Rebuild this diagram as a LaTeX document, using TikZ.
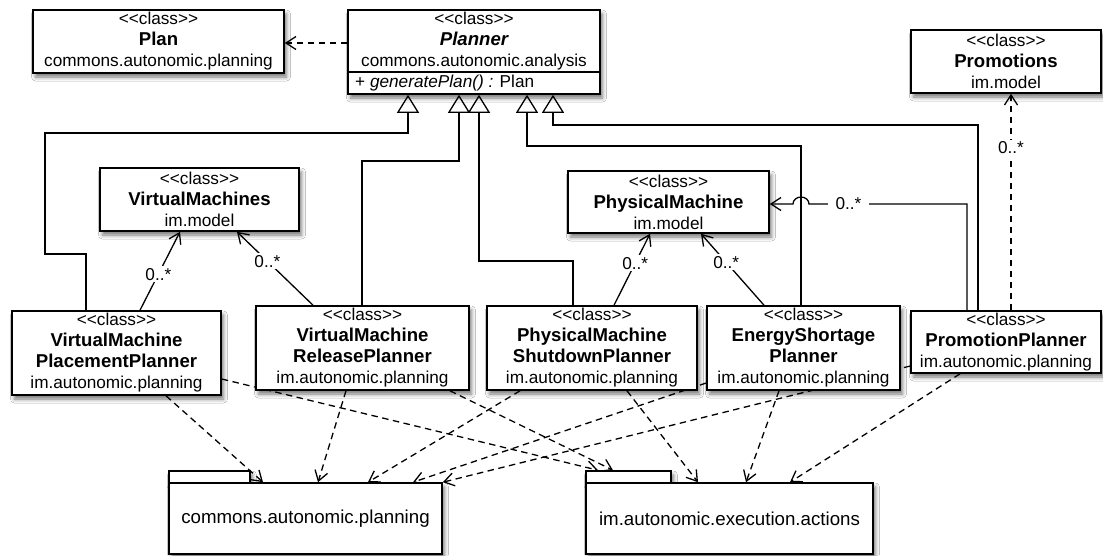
\documentclass[tikz,border=0pt]{standalone}
\usepackage{fontspec}
\setmainfont{Liberation Sans}[Ligatures=TeXOff]
\usetikzlibrary{arrows.meta,shadows.blur}
\newcommand\fr{\fontsize{17.2}{21}\selectfont}
\newcommand\fb{\fontsize{18.6}{21}\selectfont\bfseries}
\newcommand\fpk{\fontsize{18.7}{21}\selectfont}
\newcommand\stc{<\kern0pt<class>\kern0pt>}
\pgfdeclarelayer{bg}
\pgfsetlayers{bg,main}
\tikzset{
  boxline/.style={line width=1.6pt},
  cls/.style={boxline, draw, fill=white, align=center, inner sep=0pt, font=\fr,
    blur shadow={shadow xshift=2.5pt, shadow yshift=-4pt, shadow blur radius=4pt, shadow opacity=55}},
  pkg/.style={cls, font=\fpk},
  conn/.style={line width=1.3pt},
  gen/.style={conn, -{Triangle[open, length=18pt, width=22pt]}},
  assoc/.style={conn, -{Straight Barb[length=10pt, width=13pt]}},
  dep/.style={assoc, dash pattern=on 6.5pt off 4.5pt},
  mult/.style={fill=white, inner sep=2pt, font=\fr},
}
\begin{document}
\begin{tikzpicture}[x=1pt, y=-1pt]
\useasboundingbox (0,0) rectangle (1103,555);
% classes
\node[cls, minimum width=251pt, minimum height=63pt] (plan) at (158.5,41.5)
  {\stc\\{\fb Plan}\\commons.autonomic.planning};
\node[cls, minimum width=252pt, minimum height=84pt] (planner) at (474,52) {};
\node[font=\fr, align=center, inner sep=0pt] (plannerhead) at (474,41.5)
  {\stc\\{\fb\itshape Planner}\\commons.autonomic.analysis};
\draw[boxline] (planner.west |- 0,72) -- (planner.east |- 0,72);
\node[font=\fr, anchor=west, inner sep=0pt] (plannerop) at (355,83)
  {+ \textit{generatePlan() :} Plan};
\node[cls, minimum width=190pt, minimum height=63pt] (promotions) at (1006,61.5)
  {\stc\\{\fb Promotions}\\im.model};
\node[cls, minimum width=199pt, minimum height=63pt] (vms) at (199.5,199.5)
  {\stc\\{\fb VirtualMachines}\\im.model};
\node[cls, minimum width=201pt, minimum height=62pt] (pm) at (668.5,202)
  {\stc\\{\fb PhysicalMachine}\\im.model};
\node[cls, minimum width=209pt, minimum height=84pt] (vmpp) at (116.5,353)
  {\stc\\{\fb VirtualMachine}\\{\fb PlacementPlanner}\\im.autonomic.planning};
\node[cls, minimum width=213pt, minimum height=84pt] (vmrp) at (362.5,348)
  {\stc\\{\fb VirtualMachine}\\{\fb ReleasePlanner}\\im.autonomic.planning};
\node[cls, minimum width=210pt, minimum height=84pt] (pmsp) at (592,348)
  {\stc\\{\fb PhysicalMachine}\\{\fb ShutdownPlanner}\\im.autonomic.planning};
\node[cls, minimum width=193pt, minimum height=84pt] (esp) at (803.5,348)
  {\stc\\{\fb EnergyShortage}\\{\fb Planner}\\im.autonomic.planning};
\node[cls, minimum width=190pt, minimum height=62pt] (ppl) at (1006,342)
  {\stc\\{\fb PromotionPlanner}\\im.autonomic.planning};
% packages
\node[pkg, minimum width=81pt, minimum height=12pt] (commonstab) at (209.5,477) {};
\node[pkg, minimum width=273pt, minimum height=71pt] (commons) at (305.5,518.5)
  {commons.autonomic.planning};
\node[pkg, minimum width=85pt, minimum height=12pt] (exectab) at (628.5,477) {};
\node[pkg, minimum width=287pt, minimum height=71pt] (exec) at (729.5,518.5)
  {im.autonomic.execution.actions};
% connectors
\begin{pgfonlayer}{bg}
\fill[white] (0,0) rectangle (1103,555);
% generalizations
\draw[gen] (vmpp.north -| 86,0) -- (86,254) -- (45,254) -- (45,133) -- (408,133) -- (planner.south -| 408,0);
\draw[gen] (vmrp.north -| 362,0) -- (362,161) -- (459,161) -- (planner.south -| 459,0);
\draw[gen] (pmsp.north -| 573,0) -- (573,261) -- (479,261) -- (planner.south -| 479,0);
\draw[gen] (esp.north -| 801,0) -- (801,146) -- (527,146) -- (planner.south -| 527,0);
\draw[gen] (ppl.north -| 978,0) -- (978,125) -- (553,125) -- (planner.south -| 553,0);
% dependency planner -> plan
\draw[dep] (planner.west |- 0,43) -- (plan.east |- 0,43);
% associations
\draw[assoc] (vmpp.north -| 140,0) -- node[mult, pos=0.46] {0..*} (vms.south -| 180,0);
\draw[assoc] (vmrp.north -| 313,0) -- node[mult, pos=0.6] {0..*} (vms.south -| 237,0);
\draw[assoc] (pmsp.north -| 614,0) -- node[mult, pos=0.59] {0..*} (pm.south -| 650,0);
\draw[assoc] (esp.north -| 764,0) -- node[mult, pos=0.6] {0..*} (pm.south -| 701,0);
\draw[assoc] (ppl.north -| 967,0) -- (967,204) -- node[mult, inner xsep=8pt, pos=0.75] {0..*} (809,204)
  arc[start angle=0, end angle=-180, x radius=8, y radius=7] -- (pm.east |- 0,204);
\draw[dep] (ppl.north -| 1011,0) -- node[mult, pos=0.75] {0..*} (promotions.south -| 1011,0);
% dependencies to packages
\draw[dep] (vmpp.south -| 166,0) -- (commons.north -| 263,0);
\draw[dep] (vmrp.south -| 346,0) -- (commons.north -| 318,0);
\draw[dep] (pmsp.south -| 520,0) -- (commons.north -| 368,0);
\draw[dep] (esp.west |- 0,383) -- (commons.north -| 413,0);
\draw[dep] (ppl.west |- 0,366) -- (commons.north east);
\draw[dep] (vmpp.east |- 0,379) -- (exectab.north -| 598,0);
\draw[dep] (vmrp.south -| 450,0) -- (exectab.north -| 613,0);
\draw[dep] (pmsp.south -| 627,0) -- (exec.north -| 698,0);
\draw[dep] (esp.south -| 779,0) -- (exec.north -| 746,0);
\draw[dep] (ppl.south -| 960,0) -- (exec.north -| 790,0);
\end{pgfonlayer}
\end{tikzpicture}
\end{document}
